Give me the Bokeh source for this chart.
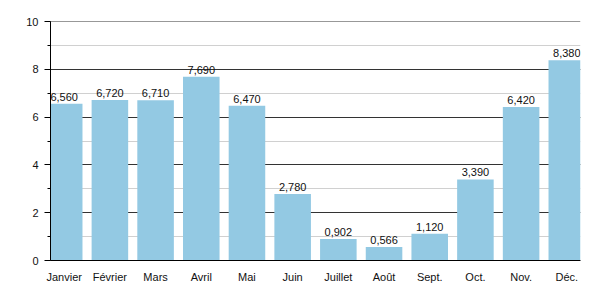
from bokeh.plotting import figure
from bokeh.models import ColumnDataSource, Range1d, SingleIntervalTicker, FactorRange, Span
from bokeh.core.properties import value
from bokeh.embed import file_html
from bokeh.resources import INLINE

months = ["Janvier", "Février", "Mars", "Avril", "Mai", "Juin", "Juillet", "Août", "Sept.", "Oct.", "Nov.", "Déc."]
values = [6.56, 6.72, 6.71, 7.69, 6.47, 2.78, 0.902, 0.566, 1.12, 3.39, 6.42, 8.38]
labels = ["6,560", "6,720", "6,710", "7,690", "6,470", "2,780", "0,902", "0,566", "1,120", "3,390", "6,420", "8,380"]

src = ColumnDataSource(data=dict(m=months, v=values, lab=labels))

xr = FactorRange(*months, range_padding=-0.2, range_padding_units="absolute")
p = figure(x_range=xr, y_range=Range1d(0, 10), width=600, height=300,
           output_backend="svg", toolbar_location=None,
           min_border_left=50, min_border_right=20, min_border_top=21, min_border_bottom=40)
p.outline_line_color = None
p.background_fill_color = "white"

p.add_layout(Span(location=10, dimension="width", line_color="#333333", line_width=1))
p.vbar(x="m", top="v", width=0.8, source=src, fill_color="#93c9e3", line_color=None)
p.text(x="m", y="v", text="lab", source=src, text_align="center", text_baseline="bottom",
       y_offset=-3, text_font=value("Liberation Sans"), text_font_size="11px", text_color="#111111")

ticker = SingleIntervalTicker(interval=2, num_minor_ticks=2)
p.yaxis.ticker = ticker
p.ygrid.ticker = ticker
p.ygrid.grid_line_color = "#333333"
p.ygrid.grid_line_width = 1
p.ygrid.minor_grid_line_color = "#d0d0d0"
p.xgrid.grid_line_color = None

p.yaxis.axis_line_color = "black"
p.yaxis.major_tick_out = 6
p.yaxis.major_tick_in = 0
p.yaxis.minor_tick_out = 3
p.yaxis.minor_tick_in = 0
p.yaxis.major_tick_line_color = "black"
p.yaxis.minor_tick_line_color = "black"
p.yaxis.major_label_text_font = "Liberation Sans"
p.yaxis.major_label_text_font_size = "11px"
p.yaxis.major_label_text_color = "#111111"
p.yaxis.major_label_standoff = 6

p.xaxis.axis_line_color = "black"
p.xaxis.major_tick_line_color = None
p.xaxis.minor_tick_line_color = None
p.xaxis.major_label_text_font = "Liberation Sans"
p.xaxis.major_label_text_font_size = "11px"
p.xaxis.major_label_text_color = "#111111"
p.xaxis.major_label_standoff = 4

open("out.html", "w").write(file_html(p, INLINE))
